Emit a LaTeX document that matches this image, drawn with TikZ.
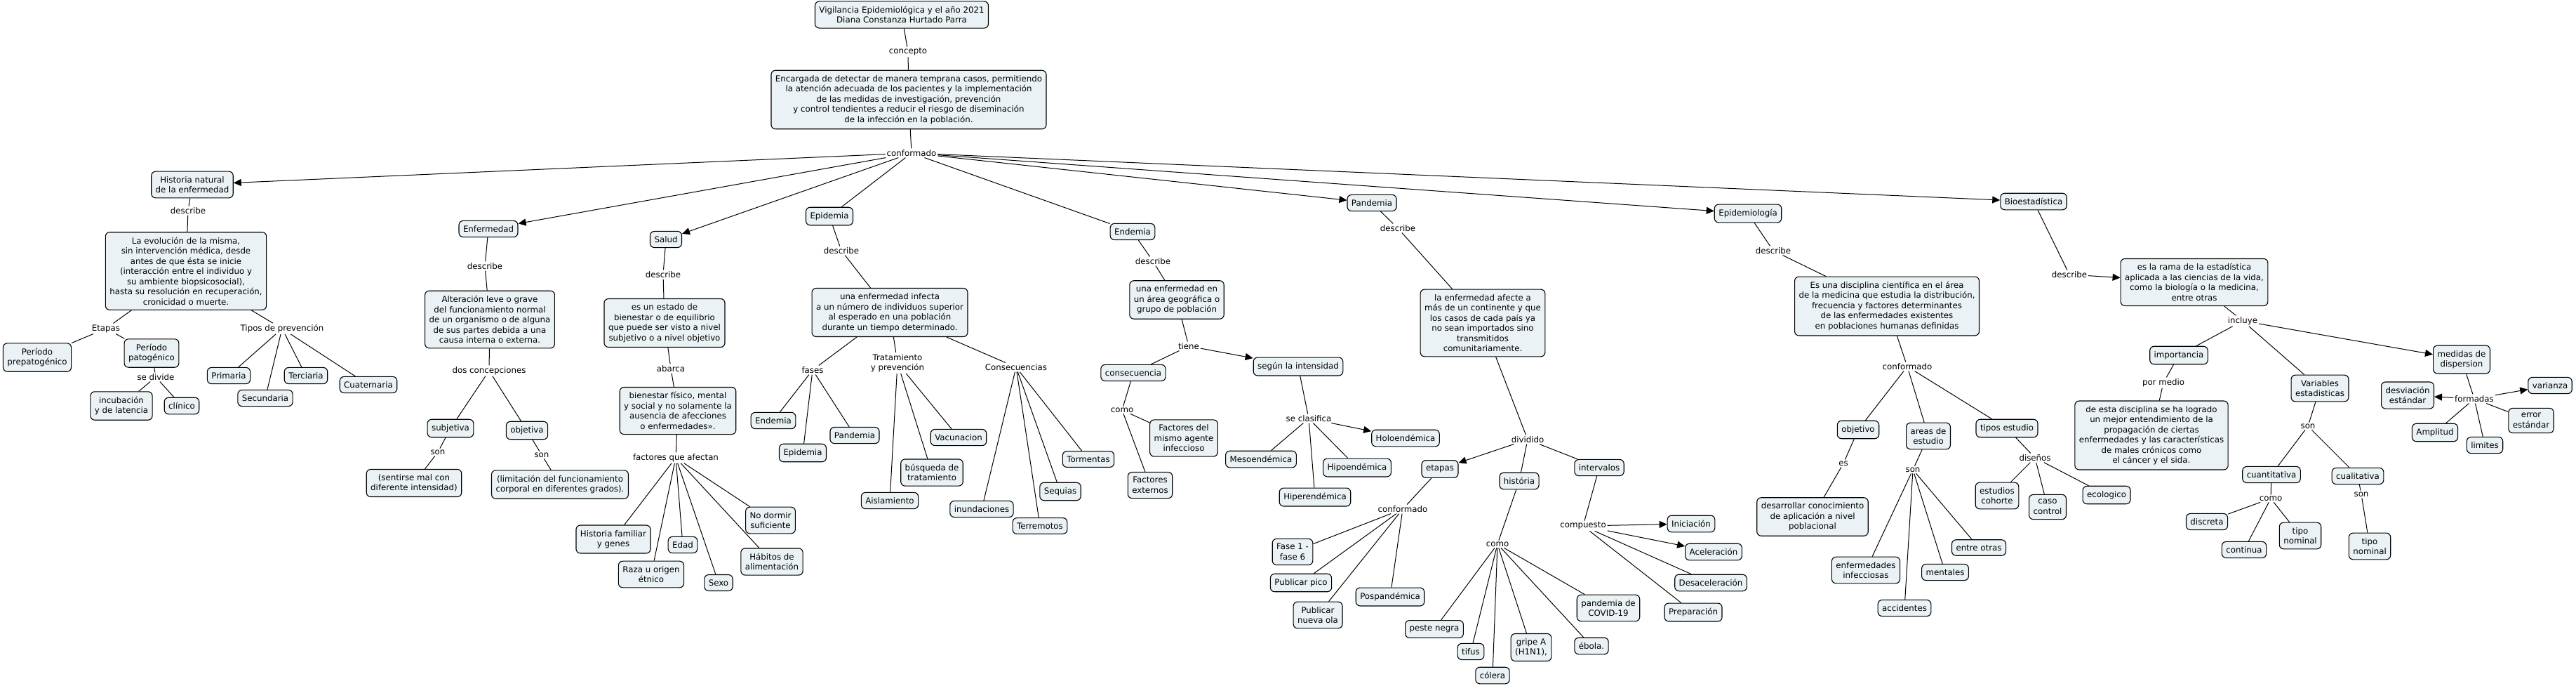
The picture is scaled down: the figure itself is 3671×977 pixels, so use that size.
\documentclass[tikz,border=0pt]{standalone}
\usepackage{fontspec}
\setmainfont{DejaVu Sans}
\usetikzlibrary{arrows.meta}
\definecolor{boxfill}{RGB}{235,242,245}

\begin{document}
\begin{tikzpicture}[x=1pt, y=-1pt, line width=1pt,
    >={Triangle[length=11pt,width=10pt]},
    conc/.style={draw, rounded corners=6pt, fill=boxfill, align=center,
      inner xsep=6pt, inner ysep=7pt, line width=1.1pt,
      font=\fontsize{11.8}{14.5}\selectfont},
    phrase/.style={inner sep=1.5pt, align=center,
      font=\fontsize{11.8}{14.5}\selectfont}]
    \useasboundingbox (0,0) rectangle (3671,977);

    % Centre
    \node[conc] (title) at (1285,21) {Vigilancia Epidemiológica y el año 2021\\Diana Constanza Hurtado Parra};
    \node[phrase] (lconc) at (1294,74) {concepto};
    \node[conc] (def) at (1295,142) {Encargada de detectar de manera temprana casos, permitiendo\\la atención adecuada de los pacientes y la implementación\\de las medidas de investigación, prevención\\y control tendientes a reducir el riesgo de diseminación\\de la infección en la población.};
    \node[phrase] (lconf) at (1299,218) {conformado};
    \draw (title) -- (lconc) -- (def) -- (lconf);

    % Main concepts
    \node[conc] (hne) at (274,263) {Historia natural\\de la enfermedad};
    \node[conc] (enf) at (696,326) {Enfermedad};
    \node[conc] (salud) at (949,341) {Salud};
    \node[conc] (epid) at (1182,308) {Epidemia};
    \node[conc] (ende) at (1614,330) {Endemia};
    \node[conc] (pand) at (1955,289) {Pandemia};
    \node[conc] (epdl) at (2491,304) {Epidemiología};
    \node[conc] (bio) at (2898,287) {Bioestadística};
    \foreach \n in {hne,enf,salud,pand,epdl,bio}
        \draw[->] (lconf) -- (\n);
    \draw (lconf) -- (epid);
    \draw (lconf) -- (ende);

    % Historia natural
    \node[phrase] (lhd) at (268,300) {describe};
    \node[conc] (evol) at (265,386) {La evolución de la misma,\\sin intervención médica, desde\\antes de que ésta se inicie\\(interacción entre el individuo y\\su ambiente biopsicosocial),\\hasta su resolución en recuperación,\\cronicidad o muerte.};
    \node[phrase] (letap) at (151,468) {Etapas};
    \node[phrase] (ltipo) at (402,468) {Tipos de prevención};
    \node[conc] (prepat) at (53,509) {Período\\prepatogénico};
    \node[conc] (pat) at (216,503) {Período\\patogénico};
    \node[phrase] (lsediv) at (222,537) {se divide};
    \node[conc] (incub) at (173,578) {incubación\\y de latencia};
    \node[conc] (clin) at (259,578) {clínico};
    \node[conc] (prim) at (326,535) {Primaria};
    \node[conc] (secu) at (378,567) {Secundaria};
    \node[conc] (terc) at (436,535) {Terciaria};
    \node[conc] (cuat) at (525,548) {Cuaternaria};
    \draw (hne) -- (lhd) -- (evol);
    \draw (evol) -- (letap);
    \draw (evol) -- (ltipo);
    \foreach \n in {prepat,pat} \draw (letap) -- (\n);
    \draw (pat) -- (lsediv);
    \foreach \n in {incub,clin} \draw (lsediv) -- (\n);
    \foreach \n in {prim,secu,terc,cuat} \draw (ltipo) -- (\n);

    % Enfermedad
    \node[phrase] (led) at (691,379) {describe};
    \node[conc] (alter) at (698,455) {Alteración leve o grave\\del funcionamiento normal\\de un organismo o de alguna\\de sus partes debida a una\\causa interna o externa.};
    \node[phrase] (ldos) at (697,528) {dos concepciones};
    \node[conc] (subj) at (642,610) {subjetiva};
    \node[conc] (obj) at (751,613) {objetiva};
    \node[phrase] (lsona) at (624,644) {son};
    \node[phrase] (lsonb) at (772,648) {son};
    \node[conc] (sent) at (590,688) {(sentirse mal con\\diferente intensidad)};
    \node[conc] (limit) at (798,690) {(limitación del funcionamiento\\corporal en diferentes grados).};
    \draw (enf) -- (led) -- (alter) -- (ldos);
    \draw (ldos) -- (subj);
    \draw (ldos) -- (obj);
    \draw (subj) -- (lsona) -- (sent);
    \draw (obj) -- (lsonb) -- (limit);

    % Salud
    \node[phrase] (lsd) at (945,391) {describe};
    \node[conc] (estado) at (947,460) {es un estado de\\bienestar o de equilibrio\\que puede ser visto a nivel\\subjetivo o a nivel objetivo};
    \node[phrase] (labar) at (956,525) {abarca};
    \node[conc] (bien) at (966,585) {bienestar físico, mental\\y social y no solamente la\\ausencia de afecciones\\o enfermedades».};
    \node[phrase] (lfact) at (963,652) {factores que afectan};
    \node[conc] (hfam) at (874,768) {Historia familiar\\y genes};
    \node[conc] (raza) at (928,818) {Raza u origen\\étnico};
    \node[conc] (edad) at (973,776) {Edad};
    \node[conc] (sexo) at (1024,830) {Sexo};
    \node[conc] (dormir) at (1098,741) {No dormir\\suficiente};
    \node[conc] (habit) at (1100,800) {Hábitos de\\alimentación};
    \draw (salud) -- (lsd) -- (estado) -- (labar) -- (bien) -- (lfact);
    \foreach \n in {hfam,raza,edad,sexo,dormir,habit} \draw (lfact) -- (\n);

    % Epidemia
    \node[phrase] (lepd) at (1199,357) {describe};
    \node[conc] (infec) at (1268,445) {una enfermedad infecta\\a un número de individuos superior\\al esperado en una población\\durante un tiempo determinado.};
    \node[phrase] (lfases) at (1158,527) {fases};
    \node[phrase] (ltrat) at (1279,517) {Tratamiento\\y prevención};
    \node[phrase] (lcons) at (1448,523) {Consecuencias};
    \node[conc] (fend) at (1102,599) {Endemia};
    \node[conc] (fepi) at (1144,645) {Epidemia};
    \node[conc] (fpan) at (1218,620) {Pandemia};
    \node[conc] (vacu) at (1366,623) {Vacunacion};
    \node[conc] (busq) at (1328,673) {búsqueda de\\tratamiento};
    \node[conc] (aisl) at (1268,713) {Aislamiento};
    \node[conc] (inun) at (1399,725) {inundaciones};
    \node[conc] (terr) at (1482,749) {Terremotos};
    \node[conc] (sequ) at (1511,700) {Sequias};
    \node[conc] (torm) at (1551,654) {Tormentas};
    \draw (epid) -- (lepd) -- (infec);
    \foreach \l in {lfases,ltrat,lcons} \draw (infec) -- (\l);
    \foreach \n in {fend,fepi,fpan} \draw (lfases) -- (\n);
    \foreach \n in {vacu,busq,aisl} \draw (ltrat) -- (\n);
    \foreach \n in {inun,terr,sequ,torm} \draw (lcons) -- (\n);

    % Endemia
    \node[phrase] (lend) at (1643,372) {describe};
    \node[conc] (area) at (1677,427) {una enfermedad en\\un área geográfica o\\grupo de población};
    \node[phrase] (ltiene) at (1694,493) {tiene};
    \node[conc] (csec) at (1615,531) {consecuencia};
    \node[phrase] (lcomoa) at (1599,584) {como};
    \node[conc] (fagen) at (1687,624) {Factores del\\mismo agente\\infeccioso};
    \node[conc] (fext) at (1639,691) {Factores\\externos};
    \node[conc] (segun) at (1850,522) {según la intensidad};
    \node[phrase] (lclas) at (1865,596) {se clasifica};
    \node[conc] (meso) at (1797,654) {Mesoendémica};
    \node[conc] (holo) at (2003,624) {Holoendémica};
    \node[conc] (hipo) at (1934,666) {Hipoendémica};
    \node[conc] (hiper) at (1874,708) {Hiperendémica};
    \draw (ende) -- (lend) -- (area) -- (ltiene) -- (csec) -- (lcomoa);
    \draw[->] (ltiene) -- (segun);
    \foreach \n in {fagen,fext} \draw (lcomoa) -- (\n);
    \draw (segun) -- (lclas);
    \draw[->] (lclas) -- (holo);
    \foreach \n in {meso,hipo,hiper} \draw (lclas) -- (\n);

    % Pandemia
    \node[phrase] (lpd) at (1992,325) {describe};
    \node[conc] (afecte) at (2113,460) {la enfermedad afecte a\\más de un continente y que\\los casos de cada país ya\\no sean importados sino\\transmitidos\\comunitariamente.};
    \node[phrase] (ldivid) at (2177,626) {dividido};
    \node[conc] (etap) at (2052,668) {etapas};
    \node[conc] (hist) at (2165,685) {história};
    \node[conc] (interv) at (2279,666) {intervalos};
    \node[phrase] (lconfb) at (1999,725) {conformado};
    \node[conc] (fase) at (1842,786) {Fase 1 -\\fase 6};
    \node[conc] (pico) at (1854,830) {Publicar pico};
    \node[conc] (nola) at (1878,876) {Publicar\\nueva ola};
    \node[conc] (posp) at (1981,850) {Pospandémica};
    \node[phrase] (lcomob) at (2134,775) {como};
    \node[conc] (peste) at (2044,896) {peste negra};
    \node[conc] (tifus) at (2096,928) {tifus};
    \node[conc] (colera) at (2127,962) {cólera};
    \node[conc] (gripe) at (2182,922) {gripe A\\(H1N1),};
    \node[conc] (ebola) at (2268,920) {ébola.};
    \node[conc] (covid) at (2292,866) {pandemia de\\COVID-19};
    \node[phrase] (lcomp) at (2256,749) {compuesto};
    \node[conc] (inic) at (2410,746) {Iniciación};
    \node[conc] (acel) at (2442,786) {Aceleración};
    \node[conc] (desac) at (2438,830) {Desaceleración};
    \node[conc] (prep) at (2413,872) {Preparación};
    \draw (pand) -- (lpd) -- (afecte) -- (ldivid);
    \draw[->] (ldivid) -- (etap);
    \draw (ldivid) -- (hist);
    \draw (ldivid) -- (interv);
    \draw (etap) -- (lconfb);
    \foreach \n in {fase,pico,nola,posp} \draw (lconfb) -- (\n);
    \draw (hist) -- (lcomob);
    \foreach \n in {peste,tifus,colera,gripe,ebola,covid} \draw (lcomob) -- (\n);
    \draw (interv) -- (lcomp);
    \draw[->] (lcomp) -- (inic);
    \draw[->] (lcomp) -- (acel);
    \draw (lcomp) -- (desac);
    \draw (lcomp) -- (prep);

    % Epidemiologia
    \node[phrase] (lepdl) at (2527,357) {describe};
    \node[conc] (disc) at (2689,436) {Es una disciplina científica en el área\\de la medicina que estudia la distribución,\\frecuencia y factores determinantes\\de las enfermedades existentes\\en poblaciones humanas definidas};
    \node[phrase] (lconfc) at (2718,522) {conformado};
    \node[conc] (objt) at (2648,612) {objetivo};
    \node[conc] (areas) at (2748,621) {areas de\\estudio};
    \node[conc] (tipos) at (2860,610) {tipos estudio};
    \node[phrase] (les) at (2627,660) {es};
    \node[conc] (desa) at (2583,736) {desarrollar conocimiento\\de aplicación a nivel\\poblacional};
    \node[phrase] (lsonc) at (2726,669) {son};
    \node[conc] (einf) at (2659,812) {enfermedades\\infecciosas};
    \node[conc] (acci) at (2714,866) {accidentes};
    \node[conc] (ment) at (2772,815) {mentales};
    \node[conc] (eotr) at (2820,780) {entre otras};
    \node[phrase] (ldise) at (2900,652) {diseños};
    \node[conc] (coho) at (2846,706) {estudios\\cohorte};
    \node[conc] (caso) at (2918,722) {caso\\control};
    \node[conc] (ecol) at (3002,705) {ecologico};
    \draw (epdl) -- (lepdl) -- (disc) -- (lconfc);
    \foreach \n in {objt,areas,tipos} \draw (lconfc) -- (\n);
    \draw (objt) -- (les) -- (desa);
    \draw (areas) -- (lsonc);
    \foreach \n in {einf,acci,ment,eotr} \draw (lsonc) -- (\n);
    \draw (tipos) -- (ldise);
    \foreach \n in {coho,caso,ecol} \draw (ldise) -- (\n);

    % Bioestadistica
    \node[phrase] (lbd) at (2949,391) {describe};
    \node[conc] (rama) at (3127,402) {es la rama de la estadística\\aplicada a las ciencias de la vida,\\como la biología o la medicina,\\entre otras};
    \node[phrase] (lincl) at (3196,457) {incluye};
    \node[conc] (impo) at (3105,506) {importancia};
    \node[phrase] (lpmed) at (3083,545) {por medio};
    \node[conc] (logro) at (3066,620) {de esta disciplina se ha logrado\\un mejor entendimiento de la\\propagación de ciertas\\enfermedades y las características\\de males crónicos como\\el cáncer y el sida.};
    \node[conc] (vari) at (3306,553) {Variables\\estadisticas};
    \node[phrase] (lsond) at (3289,607) {son};
    \node[conc] (cuan) at (3237,676) {cuantitativa};
    \node[conc] (cual) at (3360,678) {cualitativa};
    \node[phrase] (lcomoc) at (3236,710) {como};
    \node[phrase] (lsone) at (3365,704) {son};
    \node[conc] (discr) at (3145,743) {discreta};
    \node[conc] (cont) at (3198,783) {continua};
    \node[conc] (noma) at (3278,763) {tipo\\nominal};
    \node[conc] (nomb) at (3377,778) {tipo\\nominal};
    \node[conc] (medi) at (3508,512) {medidas de\\dispersion};
    \node[phrase] (lform) at (3526,568) {formadas};
    \node[conc] (desv) at (3431,563) {desviación\\estándar};
    \node[conc] (varz) at (3634,549) {varianza};
    \node[conc] (erre) at (3607,599) {error\\estándar};
    \node[conc] (ampl) at (3470,616) {Amplitud};
    \node[conc] (limi) at (3541,634) {limites};
    \draw (bio) -- (lbd);
    \draw[->] (lbd) -- (rama);
    \draw (rama) -- (lincl);
    \draw (lincl) -- (impo);
    \draw (lincl) -- (vari);
    \draw[->] (lincl) -- (medi);
    \draw (impo) -- (lpmed) -- (logro);
    \draw (vari) -- (lsond);
    \foreach \n in {cuan,cual} \draw (lsond) -- (\n);
    \draw (cuan) -- (lcomoc);
    \foreach \n in {discr,cont,noma} \draw (lcomoc) -- (\n);
    \draw (cual) -- (lsone) -- (nomb);
    \draw (medi) -- (lform);
    \draw[->] (lform) -- (desv);
    \draw[->] (lform) -- (varz);
    \foreach \n in {erre,ampl,limi} \draw (lform) -- (\n);
\end{tikzpicture}
\end{document}
